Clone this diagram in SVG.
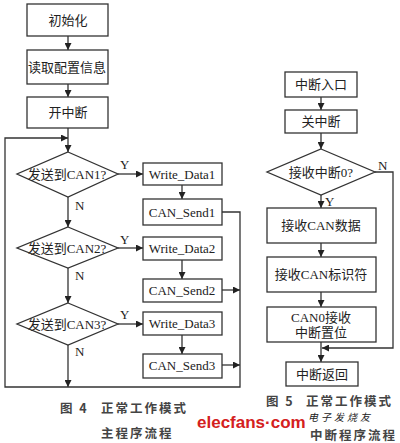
<svg xmlns="http://www.w3.org/2000/svg" width="400" height="443" viewBox="0 0 400 443">
<defs>
<marker id="ah" viewBox="0 0 10 10" refX="10" refY="5" markerWidth="7" markerHeight="7" markerUnits="userSpaceOnUse" orient="auto">
<path d="M0,0 L10,5 L0,10 z" fill="#222"/>
</marker>
<style>
.b{fill:#fff;stroke:#333;stroke-width:1.3}
.t{font-family:"Liberation Serif","Noto Sans CJK SC",serif;font-size:13px;fill:#222;text-anchor:middle}
.l{fill:none;stroke:#333;stroke-width:1.3}
.a{fill:none;stroke:#333;stroke-width:1.3;marker-end:url(#ah)}
.c{font-family:"Noto Sans CJK SC","Liberation Sans",sans-serif;font-size:12.5px;font-weight:bold;fill:#444;letter-spacing:2px}
.yn{font-family:"Liberation Serif",serif;font-size:13px;fill:#222}
</style>
</defs>
<rect width="400" height="443" fill="#fff"/>

<g id="connectors">
<line class="a" x1="68" y1="36" x2="68" y2="50"/>
<line class="a" x1="68" y1="84" x2="68" y2="97"/>
<line class="a" x1="68" y1="128" x2="68" y2="152"/>
<polyline class="a" points="68,387 5,387 5,138 68,138"/>
<line class="a" x1="118" y1="174" x2="143" y2="174"/>
<line class="a" x1="182" y1="185" x2="182" y2="199"/>
<line class="a" x1="68" y1="197" x2="68" y2="227"/>
<line class="a" x1="118" y1="248" x2="143" y2="248"/>
<line class="a" x1="182" y1="260" x2="182" y2="279"/>
<line class="a" x1="68" y1="268" x2="68" y2="303"/>
<line class="a" x1="118" y1="324" x2="143" y2="324"/>
<line class="a" x1="182" y1="335" x2="182" y2="354"/>
<line class="a" x1="68" y1="345" x2="68" y2="387"/>
<polyline class="l" points="222,212 240,212 240,387 68,387"/>
<line class="a" x1="222" y1="290" x2="240" y2="290"/>
<line class="a" x1="222" y1="365" x2="240" y2="365"/>

<line class="a" x1="321" y1="97" x2="321" y2="110"/>
<line class="a" x1="321" y1="133" x2="321" y2="149"/>
<line class="a" x1="321" y1="195" x2="321" y2="208"/>
<line class="a" x1="321" y1="243" x2="321" y2="257"/>
<line class="a" x1="321" y1="292" x2="321" y2="307"/>
<line class="a" x1="321" y1="342" x2="321" y2="362"/>
<polyline class="a" points="375,172 393,172 393,348 322,348"/>
</g>

<g id="n1"><rect class="b" x="27" y="4" width="81" height="32"/><text class="t" x="68" y="25">初始化</text></g>
<g id="n2"><rect class="b" x="27" y="50" width="81" height="34"/><text class="t" x="67" y="72">读取配置信息</text></g>
<g id="n3"><rect class="b" x="27" y="97" width="81" height="31"/><text class="t" x="68" y="117">开中断</text></g>

<g id="d1"><polygon class="b" points="68,152 118,174 68,197 17,174"/><text class="t" x="67" y="179">发送到CAN1?</text></g>
<g id="w1"><rect class="b" x="143" y="163" width="79" height="22"/><text class="t" x="182" y="179">Write_Data1</text></g>
<g id="s1"><rect class="b" x="143" y="199" width="79" height="26"/><text class="t" x="182" y="217">CAN_Send1</text></g>

<g id="d2"><polygon class="b" points="68,227 118,248 68,268 17,248"/><text class="t" x="67" y="253">发送到CAN2?</text></g>
<g id="w2"><rect class="b" x="143" y="237" width="79" height="23"/><text class="t" x="182" y="253">Write_Data2</text></g>
<g id="s2"><rect class="b" x="143" y="279" width="79" height="23"/><text class="t" x="182" y="295">CAN_Send2</text></g>

<g id="d3"><polygon class="b" points="68,303 118,324 68,345 17,324"/><text class="t" x="67" y="329">发送到CAN3?</text></g>
<g id="w3"><rect class="b" x="143" y="312" width="79" height="23"/><text class="t" x="182" y="328">Write_Data3</text></g>
<g id="s3"><rect class="b" x="143" y="354" width="79" height="24"/><text class="t" x="182" y="370">CAN_Send3</text></g>

<g id="labels">
<text class="yn" x="120" y="169">Y</text>
<text class="yn" x="75" y="210">N</text>
<text class="yn" x="120" y="244">Y</text>
<text class="yn" x="75" y="280">N</text>
<text class="yn" x="120" y="319">Y</text>
<text class="yn" x="75" y="356">N</text>
<text class="yn" x="378" y="170">N</text>
<text class="yn" x="325" y="206">Y</text>
</g>

<g id="r1"><rect class="b" x="285" y="72" width="72" height="25"/><text class="t" x="321" y="89">中断入口</text></g>
<g id="r2"><rect class="b" x="285" y="110" width="72" height="23"/><text class="t" x="321" y="126">关中断</text></g>
<g id="r3"><polygon class="b" points="321,149 375,172 321,195 267,172"/><text class="t" x="321" y="177">接收中断0?</text></g>
<g id="r4"><rect class="b" x="267" y="208" width="109" height="35"/><text class="t" x="321" y="230">接收CAN数据</text></g>
<g id="r5"><rect class="b" x="267" y="257" width="109" height="35"/><text class="t" x="321" y="279">接收CAN标识符</text></g>
<g id="r6"><rect class="b" x="267" y="307" width="109" height="35"/><text class="t" x="321" y="322">CAN0接收</text><text class="t" x="321" y="337">中断置位</text></g>
<g id="r7"><rect class="b" x="286" y="362" width="72" height="24"/><text class="t" x="322" y="379">中断返回</text></g>

<g id="captions">
<text class="c" x="60" y="413">图 4</text>
<text class="c" x="101" y="413">正常工作模式</text>
<text class="c" x="101" y="438">主程序流程</text>
<text class="c" x="266" y="406">图 5</text>
<text class="c" x="306" y="406">正常工作模式</text>
<text class="c" x="310" y="440" fill="#666" font-size="11" letter-spacing="1">中断程序流程</text>
<text x="308" y="421" font-family="Noto Sans CJK SC,sans-serif" font-size="10" font-style="italic" fill="#222" letter-spacing="3">电子发烧友</text>
<text x="197" y="428" font-family="Liberation Sans,sans-serif" font-size="17" font-weight="bold" fill="#d42020">elecfans·com</text>
</g>
</svg>
